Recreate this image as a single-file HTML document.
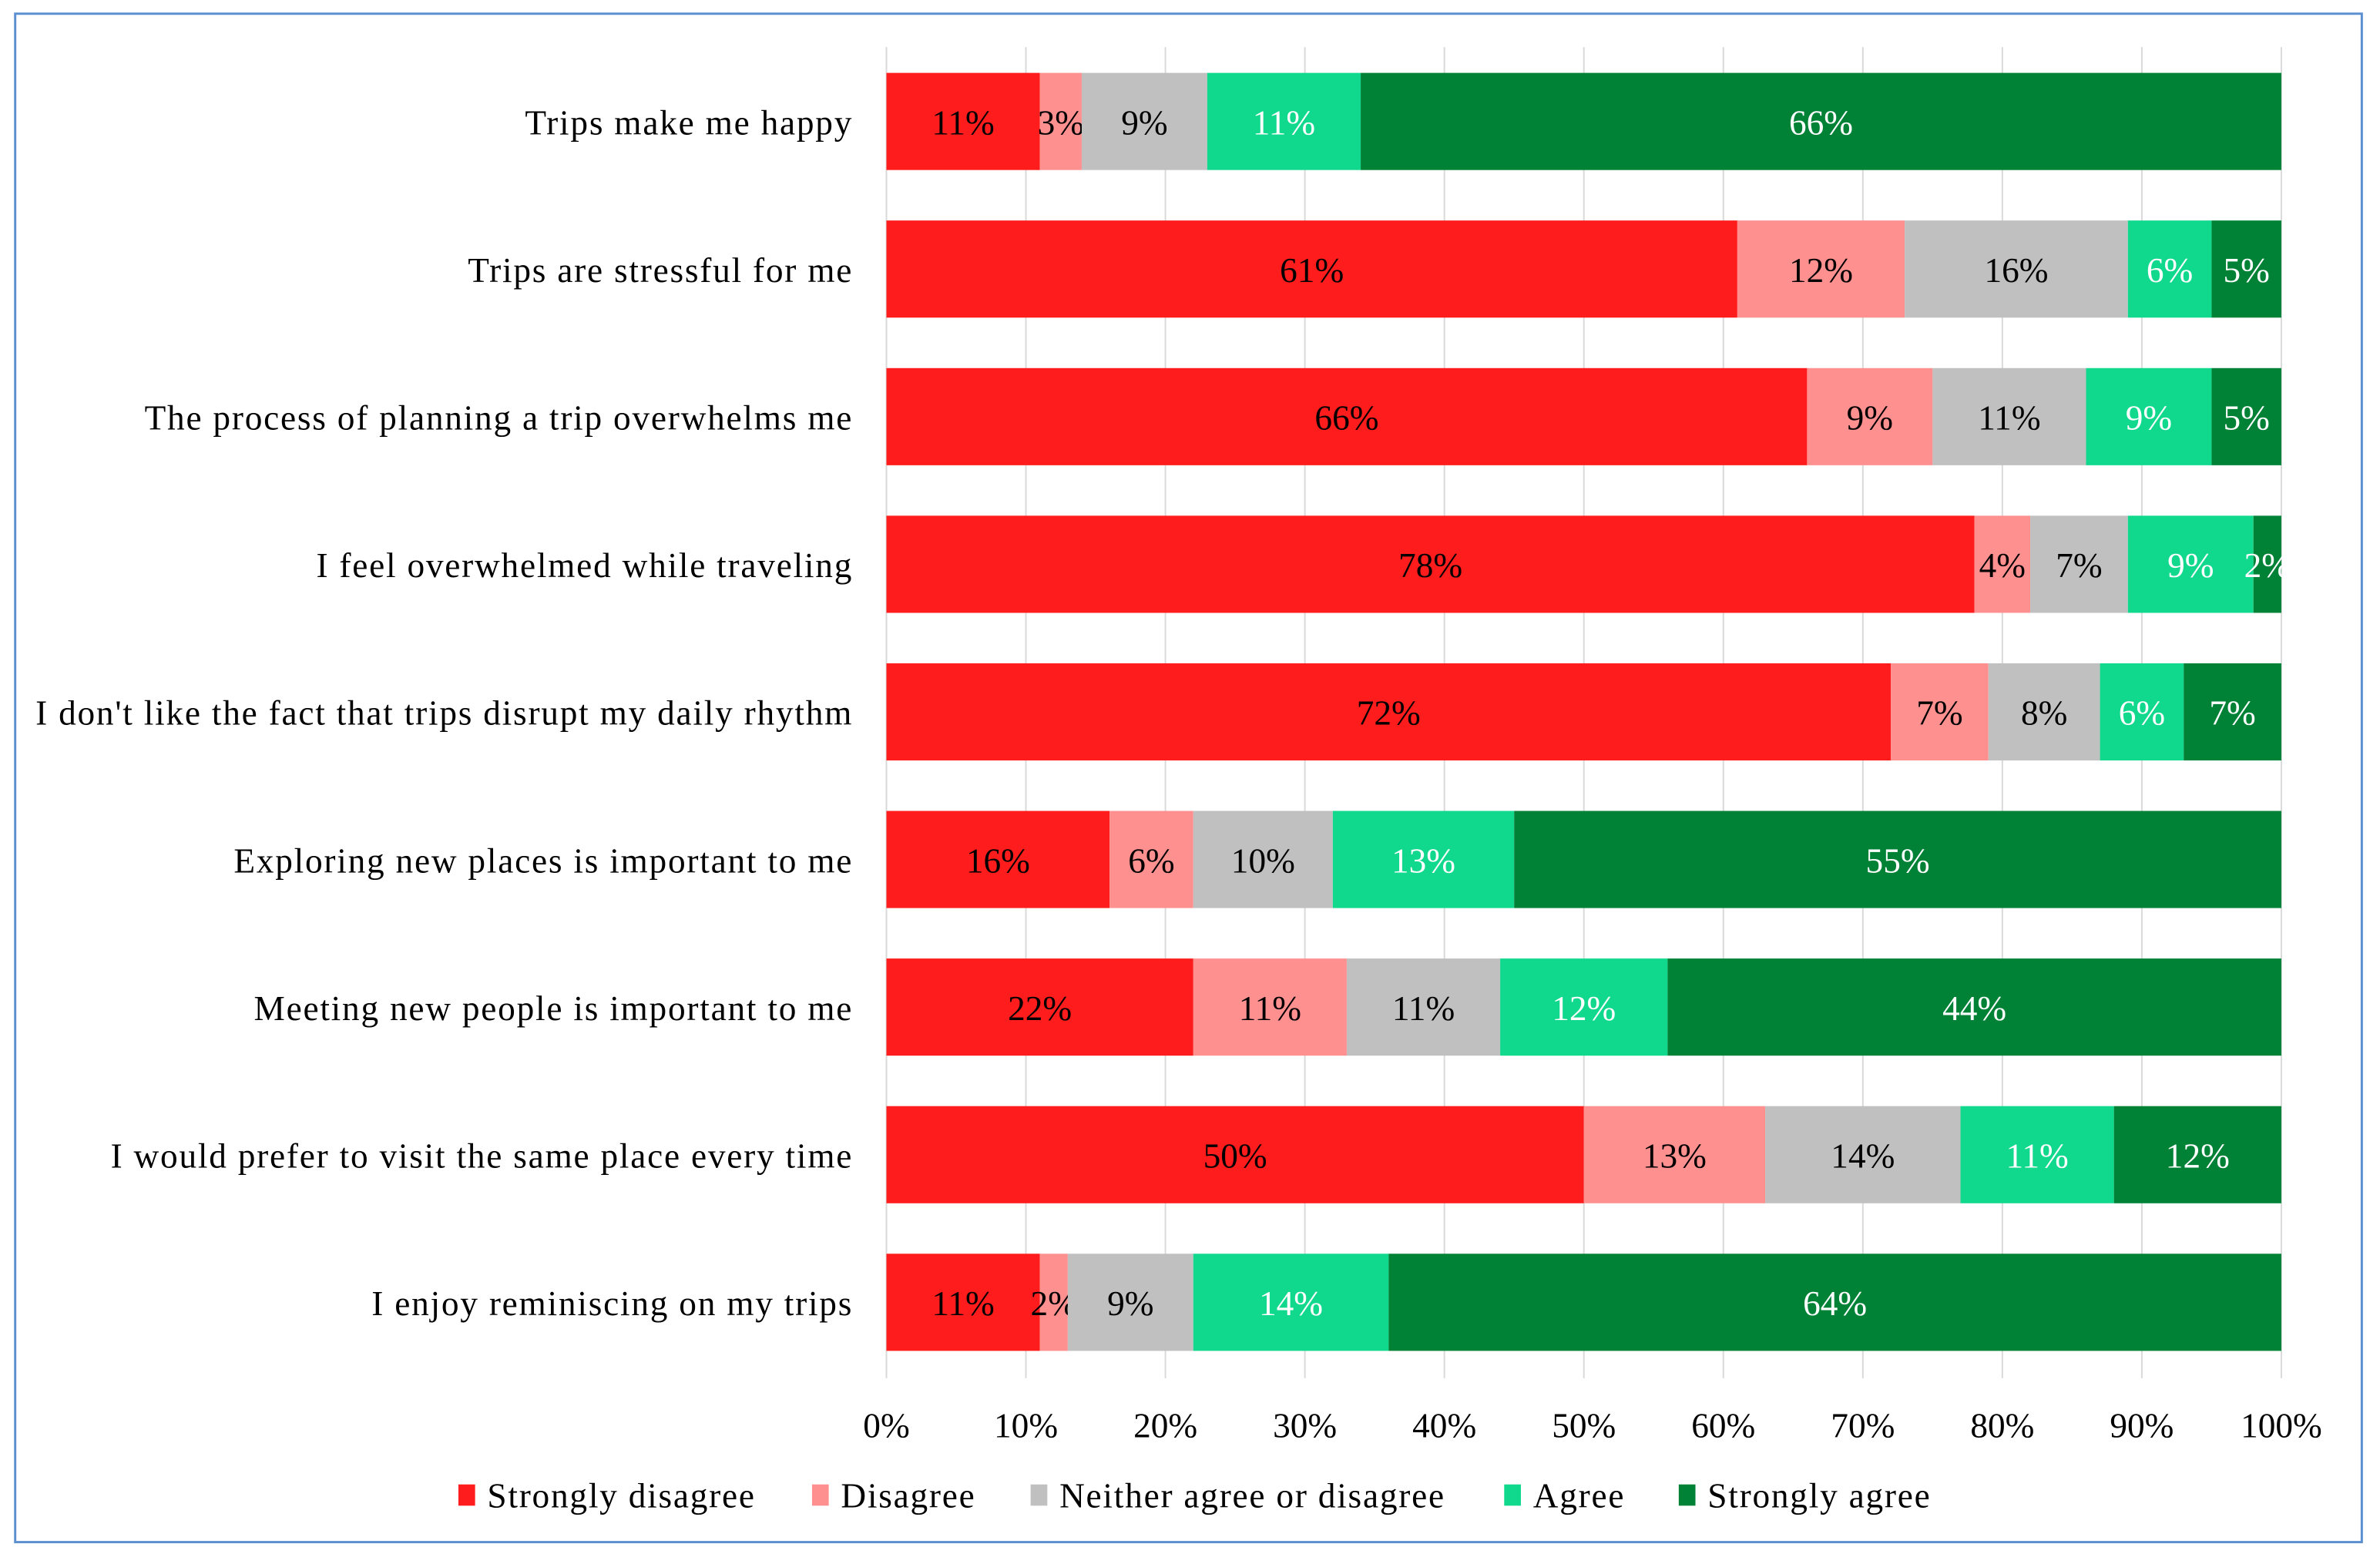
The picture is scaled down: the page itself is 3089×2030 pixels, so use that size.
<!DOCTYPE html>
<html><head><meta charset="utf-8"><style>
html,body{margin:0;padding:0;background:#fff;}
svg{display:block;}
text{font-family:"Liberation Serif",serif;}
</style></head><body>
<svg id="chart" width="3089" height="2030" viewBox="0 0 1568 1030.4" xmlns="http://www.w3.org/2000/svg">
<rect x="10" y="9" width="1546" height="1007" fill="#fff" stroke="#5b8fd0" stroke-width="1.5"/>
<g id="grid"></g>
<g id="bars"></g>
<g id="labels"></g>
<g id="ticks"></g>
<g id="legend"></g>
</svg>
<script>
const categories = ["Trips make me happy","Trips are stressful for me","The process of planning a trip overwhelms me","I feel overwhelmed while traveling","I don't like the fact that trips disrupt my daily rhythm","Exploring new places is important to me","Meeting new people is important to me","I would prefer to visit the same place every time","I enjoy reminiscing on my trips"];
const stronglyDisagree = [11,61,66,78,72,16,22,50,11];
const disagree = [3,12,9,4,7,6,11,13,2];
const neither = [9,16,11,7,8,10,11,14,9];
const agree = [11,6,9,9,6,13,12,11,14];
const stronglyAgree = [66,5,5,2,7,55,44,12,64];
const seriesNames = ["Strongly disagree","Disagree","Neither agree or disagree","Agree","Strongly agree"];
const tickValues = [0,10,20,30,40,50,60,70,80,90,100];

const series = [stronglyDisagree, disagree, neither, agree, stronglyAgree];
const colors = ["#ff1c1c","#ff9090","#c0c0c0","#10d88c","#008236"];
const textColors = ["#000","#000","#000","#fff","#fff"];
const NS = "http://www.w3.org/2000/svg";
const X0 = 584, X1 = 1503, Y0 = 48, STEP = 97.25, BH = 63;
const xScale = v => X0 + (X1 - X0) * v / 100;
const yScale = i => Y0 + i * STEP;
function mk(tag, attrs, parent, txt){
  const e = document.createElementNS(NS, tag);
  for (const k in attrs) e.setAttribute(k, attrs[k]);
  if (txt !== undefined) e.textContent = txt;
  parent.appendChild(e);
  return e;
}
const grid = document.getElementById('grid');
const bars = document.getElementById('bars');
const labels = document.getElementById('labels');
const ticks = document.getElementById('ticks');
const legend = document.getElementById('legend');
tickValues.forEach(t => {
  const l = mk('line', {x1: xScale(t), x2: xScale(t), y1: 31, y2: 908, stroke: '#d9d9d9', 'stroke-width': 1}, grid);
  
  
  const tx = mk('text', {x: xScale(t), y: 947, 'text-anchor': 'middle', 'font-size': 23, fill: '#000'}, ticks, t + '%');
  
  
});
categories.forEach((c, i) => {
  const y = yScale(i);
  const lab = mk('text', {x: 562, y: y + BH/2 + 9, 'text-anchor': 'end', 'font-size': 23, 'letter-spacing': 0.9, fill: '#000'}, labels, c);
  
  
  let cum = 0;
  series.forEach((s, j) => {
    const v = s[i];
    const r = mk('rect', {x: xScale(cum), y: y, width: xScale(cum + v) - xScale(cum), height: BH + 1, fill: colors[j]}, bars);
    
    
    const t = mk('text', {x: (xScale(cum) + xScale(cum + v)) / 2, y: y + BH/2 + 9, 'text-anchor': 'middle', 'font-size': 23, fill: textColors[j]}, bars, v + '%');
    
    
    cum += v;
  });
});
const legX = [302, 535, 679, 991, 1106];
seriesNames.forEach((n, j) => {
  const sq = mk('rect', {x: legX[j], y: 978, width: 11, height: 14, fill: colors[j]}, legend);
  
  
  const t = mk('text', {x: legX[j] + 19, y: 993, 'font-size': 23, 'letter-spacing': 0.9, fill: '#000'}, legend, n);
  
  
});
</script>
</body></html>
